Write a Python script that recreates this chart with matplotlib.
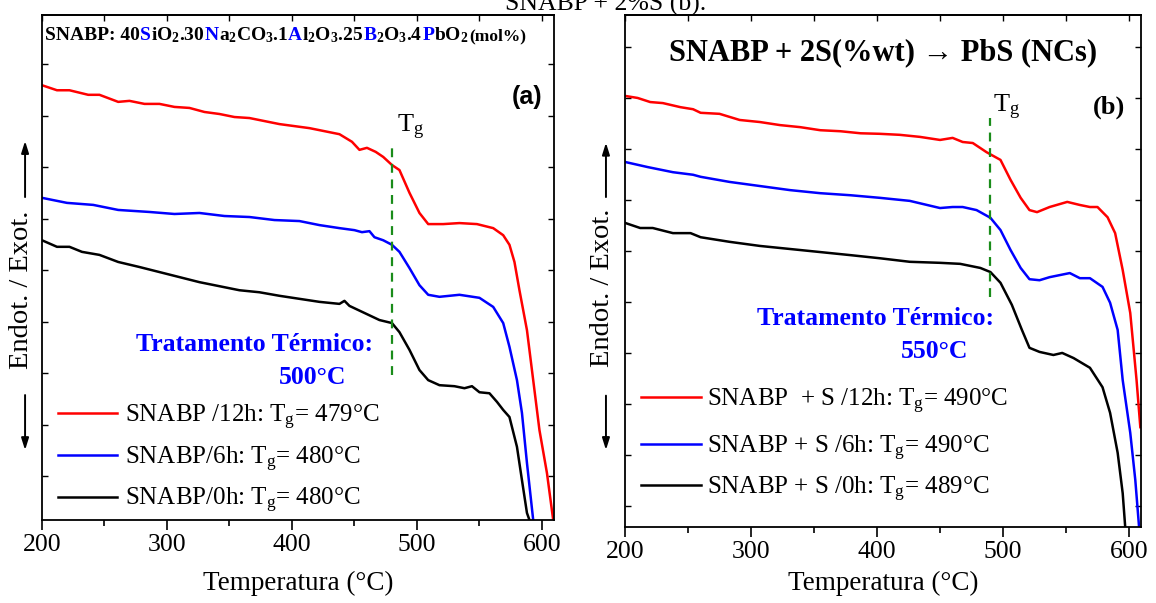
"""DSC curves of SNABP glass: heat-treated at 500 C (a) and SNABP + 2S at 550 C (b)."""
import matplotlib
matplotlib.use("Agg")
import matplotlib.pyplot as plt
import numpy as np

plt.rcParams["font.family"] = ["Liberation Serif", "DejaVu Serif"]
plt.rcParams["mathtext.fontset"] = "custom"
plt.rcParams["mathtext.rm"] = "Liberation Serif"
plt.rcParams["mathtext.it"] = "Liberation Serif:italic"
plt.rcParams["mathtext.bf"] = "Liberation Serif:bold"

# ---- panel (a): SNABP, heat treatment 500 C (arbitrary units) ----
t_a_12h = [200, 212, 222, 237, 246, 261, 270, 282, 294, 306, 318, 330, 342, 354, 366,
           378, 390, 402, 414, 426, 438, 448, 454, 460, 467, 473, 480, 486, 494, 502,
           509, 521, 534, 548, 561, 569, 574, 578, 582, 588, 593, 598, 604, 609]
y_a_12h = [86.1, 85.1, 85.1, 84.2, 84.2, 82.8, 83.0, 82.4, 82.4, 81.8, 81.6, 80.8, 80.4,
           79.8, 79.6, 79.0, 78.4, 78.0, 77.6, 77.0, 76.4, 74.9, 73.3, 73.7, 72.9, 71.9,
           70.3, 69.3, 64.8, 60.8, 58.6, 58.6, 58.8, 58.6, 57.8, 56.4, 54.5, 51.1, 45.5,
           37.6, 27.7, 17.8, 9.3, 0.0]
t_a_6h = [200, 220, 241, 261, 286, 306, 326, 346, 366, 386, 406, 422, 438, 450, 456, 462,
          466, 473, 480, 486, 494, 502, 509, 518, 534, 550, 561, 569, 574, 580, 584, 588, 593]
y_a_6h = [63.8, 62.8, 62.4, 61.4, 61.0, 60.6, 60.8, 60.2, 60.0, 59.4, 59.2, 58.4, 57.8,
          57.4, 57.0, 57.2, 56.0, 55.4, 54.5, 53.1, 49.9, 46.5, 44.6, 44.2, 44.6, 44.0,
          42.2, 39.0, 34.3, 27.7, 21.2, 11.3, 0.0]
t_a_0h = [200, 212, 222, 232, 246, 261, 278, 294, 310, 326, 342, 358, 374, 390, 406, 422,
          438, 442, 446, 458, 470, 480, 486, 494, 502, 509, 518, 530, 538, 544, 550, 558,
          564, 569, 574, 580, 584, 588, 590]
y_a_0h = [55.4, 54.1, 54.1, 53.1, 52.5, 51.1, 50.1, 49.1, 48.1, 47.1, 46.3, 45.5, 45.1,
          44.4, 43.8, 43.2, 42.8, 43.4, 42.4, 41.0, 39.6, 39.0, 37.2, 33.7, 29.7, 27.7,
          26.7, 26.5, 26.1, 26.5, 25.3, 25.1, 23.4, 21.8, 20.4, 14.5, 7.9, 1.4, 0.0]

# ---- panel (b): SNABP + 2S, heat treatment 550 C ----
t_b_12h = [200, 210, 220, 230, 244, 254, 260, 275, 291, 307, 323, 339, 355, 371, 387,
           402, 418, 434, 450, 460, 468, 476, 487, 498, 506, 514, 521, 527, 537, 551,
           561, 569, 575, 583, 589, 595, 601, 606, 609]
y_b_12h = [84.2, 83.8, 83.0, 82.8, 82.0, 81.6, 80.9, 80.7, 79.5, 79.1, 78.5, 78.1, 77.5,
           77.3, 76.9, 76.8, 76.6, 76.2, 75.6, 76.0, 75.2, 75.0, 73.2, 71.7, 67.8, 64.3,
           61.9, 61.5, 62.5, 63.5, 62.9, 62.5, 62.5, 60.5, 57.4, 50.2, 41.8, 28.7, 19.5]
t_b_6h = [200, 218, 238, 254, 260, 283, 307, 331, 355, 379, 402, 426, 450, 460, 468, 479,
          490, 498, 506, 514, 521, 529, 537, 553, 561, 569, 579, 585, 591, 595, 601, 605, 608]
y_b_6h = [71.3, 70.3, 69.3, 68.8, 68.4, 67.4, 66.6, 65.8, 65.2, 64.8, 64.3, 63.7, 62.3,
          62.5, 62.5, 61.9, 60.4, 58.0, 54.1, 50.6, 48.4, 48.2, 48.8, 49.6, 48.6, 48.6,
          46.9, 43.8, 38.5, 28.7, 18.4, 9.2, 0.0]
t_b_0h = [200, 212, 222, 238, 252, 260, 283, 307, 331, 355, 379, 402, 426, 450, 466, 482,
          490, 498, 507, 515, 521, 529, 540, 547, 556, 569, 579, 585, 591, 595, 597]
y_b_0h = [59.4, 58.4, 58.4, 57.4, 57.4, 56.6, 55.7, 54.9, 54.3, 53.7, 53.1, 52.5, 51.8,
          51.6, 51.4, 50.6, 49.8, 47.7, 43.4, 38.5, 35.0, 34.2, 33.6, 34.0, 33.0, 31.1,
          27.3, 22.3, 14.5, 6.6, 0.0]

tg_a = 480
tg_b = 490
tg_a_span = [28.7, 73.7]
tg_b_span = [44.9, 79.9]

labels_a = ["SNABP /12h: T$_\\mathrm{g}$= 479°C",
            "SNABP/6h: T$_\\mathrm{g}$= 480°C",
            "SNABP/0h: T$_\\mathrm{g}$= 480°C"]
labels_b = ["SNABP  + S /12h: T$_\\mathrm{g}$= 490°C",
            "SNABP + S /6h: T$_\\mathrm{g}$= 490°C",
            "SNABP + S /0h: T$_\\mathrm{g}$= 489°C"]
colors = ["#ff0000", "#0000ff", "#000000"]

formula = [("SNABP: 40", "k"), ("S", "b"), ("iO$_\\mathbf{2}$.30", "k"), ("N", "b"),
           ("a$_\\mathbf{2}$CO$_\\mathbf{3}$.1", "k"), ("A", "b"),
           ("l$_\\mathbf{2}$O$_\\mathbf{3}$.25", "k"), ("B", "b"),
           ("$_\\mathbf{2}$O$_\\mathbf{3}$.4", "k"), ("P", "b"), ("bO$_\\mathbf{2}$", "k")]

fig = plt.figure(figsize=(11.56, 6.03), dpi=100)
ax_a = fig.add_axes([0.0363, 0.1376, 0.4429, 0.8375])
ax_b = fig.add_axes([0.5407, 0.1260, 0.4464, 0.8491])


def style_axes(ax, yticks, labelpad):
    ax.set_xlim(200, 609.6)
    ax.set_ylim(0, 100)
    ax.set_xticks(np.arange(200, 601, 100))
    ax.set_xticks(np.arange(250, 600, 100), minor=True)
    ax.tick_params(axis="x", which="major", direction="out", length=7, width=1.2,
                   labelsize=18.5, pad=3)
    ax.tick_params(axis="x", which="minor", direction="out", length=4, width=1.2)
    ax.set_yticks(yticks)
    ax.tick_params(axis="y", direction="in", left=True, right=True, length=4,
                   width=1.0, labelleft=False)
    top = ax.secondary_xaxis("top")
    top.set_xticks(np.arange(200, 601, 50))
    top.tick_params(axis="x", direction="in", length=4, width=1.0, labeltop=False)
    for s in list(ax.spines.values()) + [top.spines["top"]]:
        s.set_linewidth(1.3)
    ax.set_xlabel("Temperatura (°C)", fontsize=19.5, labelpad=labelpad)


def y_label(ax, x, yc, y_up, y_dn):
    ax.text(x, yc, "Endot. / Exot.", rotation=90, fontsize=20.5, ha="center",
            va="center", transform=ax.transAxes)
    arr = dict(arrowstyle="-|>,head_length=0.7,head_width=0.22", lw=1.4, color="k")
    ax.annotate("", xy=(x + 0.006, y_up[1]), xytext=(x + 0.006, y_up[0]),
                xycoords="axes fraction", arrowprops=arr, annotation_clip=False)
    ax.annotate("", xy=(x + 0.006, y_dn[1]), xytext=(x + 0.006, y_dn[0]),
                xycoords="axes fraction", arrowprops=arr, annotation_clip=False)


def legend_rows(ax, lines, labels, x0, x1, xt, ys, dy):
    for ln, lab, y in zip(lines, labels, ys):
        ax.plot([x0, x1], [y, y], color=ln.get_color(), lw=1.8, transform=ax.transAxes)
        ax.text(xt, y - dy, lab, fontsize=18, ha="left", va="baseline",
                transform=ax.transAxes)


# ---- panel (a) ----
style_axes(ax_a, np.arange(8.7, 100, 10.2), 11)
la = [ax_a.plot(t, y, color=c, lw=1.8)[0] for t, y, c in
      zip([t_a_12h, t_a_6h, t_a_0h], [y_a_12h, y_a_6h, y_a_0h], colors)]
ax_a.plot([tg_a, tg_a], tg_a_span, color="#1a8c1a", lw=1.6, ls=(0, (4, 3)))
ax_a.text(tg_a + 4, 76.8, "T$_\\mathrm{g}$", fontsize=19, ha="left", va="baseline")
ax_a.text(0.947, 0.838, "(a)", fontsize=18, fontweight="bold", ha="center",
          va="center", family="Liberation Sans", transform=ax_a.transAxes)
ax_a.text(0.416, 0.347, "Tratamento Térmico:", fontsize=18.5, fontweight="bold",
          color="blue", ha="center", va="center", transform=ax_a.transAxes)
ax_a.text(0.529, 0.283, "500°C", fontsize=18.5, fontweight="bold", color="blue",
          ha="center", va="center", transform=ax_a.transAxes)
legend_rows(ax_a, la, labels_a, 0.031, 0.146, 0.162, [0.212, 0.129, 0.046], 0.018)
y_label(ax_a, -0.039, 0.455, (0.634, 0.756), (0.253, 0.133))

fig.canvas.draw()
renderer = fig.canvas.get_renderer()
axw = ax_a.get_window_extent(renderer).width
xpos = 0.006
for txt, col in formula + [("(mol%)", "k")]:
    size = 12.5 if txt == "(mol%)" else 14
    t = ax_a.text(xpos, 0.950, txt, color="blue" if col == "b" else "black",
                  fontsize=size, fontweight="bold", ha="left", va="baseline",
                  transform=ax_a.transAxes)
    xpos += t.get_window_extent(renderer).width / axw

# ---- panel (b) ----
style_axes(ax_b, np.arange(4.2, 100, 9.95), 6)
lb = [ax_b.plot(t, y, color=c, lw=1.8)[0] for t, y, c in
      zip([t_b_12h, t_b_6h, t_b_0h], [y_b_12h, y_b_6h, y_b_0h], colors)]
ax_b.plot([tg_b, tg_b], tg_b_span, color="#1a8c1a", lw=1.6, ls=(0, (4, 3)))
ax_b.text(tg_b + 2, 80.9, "T$_\\mathrm{g}$", fontsize=19, ha="left", va="baseline")
ax_b.text(0.938, 0.820, "(b)", fontsize=19, fontweight="bold", ha="center",
          va="center", transform=ax_b.transAxes)
ax_b.text(0.5, 0.912, "SNABP + 2S(%wt) → PbS (NCs)", fontsize=22, fontweight="bold",
          ha="center", va="baseline", transform=ax_b.transAxes)
ax_b.text(0.486, 0.408, "Tratamento Térmico:", fontsize=18.5, fontweight="bold",
          color="blue", ha="center", va="center", transform=ax_b.transAxes)
ax_b.text(0.599, 0.342, "550°C", fontsize=18.5, fontweight="bold", color="blue",
          ha="center", va="center", transform=ax_b.transAxes)
legend_rows(ax_b, lb, labels_b, 0.031, 0.147, 0.159, [0.254, 0.162, 0.082], 0.018)
y_label(ax_b, -0.043, 0.467, (0.639, 0.756), (0.262, 0.145))

# caption fragment cut by the top edge of the page, as in the source
fig.text(505 / 1156, 1 - 11 / 603, "SNABP + 2%S (b).", fontsize=18.5, ha="left",
         va="baseline")

fig.savefig("out.png", dpi=100)
